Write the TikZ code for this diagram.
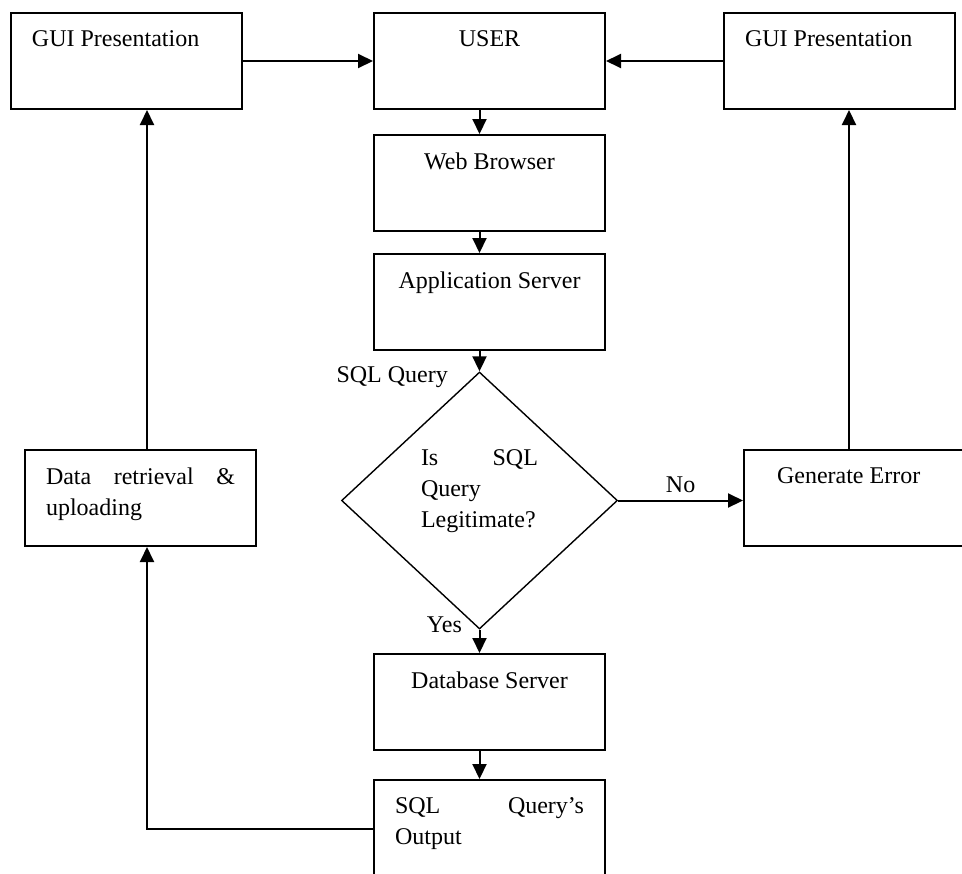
\documentclass[tikz,border=0pt]{standalone}
\usepackage{fontspec}
\setmainfont{Liberation Serif}
\usepackage{tikz}
\usetikzlibrary{arrows.meta,positioning,shapes.geometric}

\newcommand{\boxtext}[1]{\parbox[t][30pt][t]{94.5pt}{#1}}

\begin{document}
\begin{tikzpicture}[x=0.5pt,y=-0.5pt,->,>={Triangle[length=7.5pt,width=7pt]},line width=1pt,
                    font=\fontsize{12}{15.5}\selectfont]
  \tikzstyle{blk}=[draw,rectangle,anchor=north west,inner xsep=10.5pt,inner ysep=9pt,minimum width=115.5pt,minimum height=48pt]
  \tikzstyle{dia}=[draw,diamond,inner sep=0pt,minimum width=138pt,minimum height=128.5pt,line width=0.7pt]

  \useasboundingbox (0,0) rectangle (962,873);

  \node[blk]                    (user)  at (373,12)  {\boxtext{\centering USER}};
  \node[blk]                    (guiL)  at (10,12)   {\boxtext{GUI Presentation}};
  \node[blk]                    (guiR)  at (723,12)  {\boxtext{GUI Presentation}};
  \node[blk,below=12pt of user] (web)                {\boxtext{\centering Web Browser}};
  \node[blk,below=10.5pt of web](app)                {\boxtext{\centering Application Server}};
  \node[dia]                    (legit) at (479.5,500.5) {\parbox[c][51pt][t]{58.5pt}{Is\hfill SQL\\Query\\Legitimate?}};
  \node[blk]                    (db)    at (373,653) {\boxtext{\centering Database Server}};
  \node[blk,below=14pt of db]   (out)                {\boxtext{SQL\hfill Query’s\\Output}};
  \node[blk]                    (data)  at (24,449)  {\boxtext{Data\hfill retrieval\hfill\&\\uploading}};
  \node[blk]                    (err)   at (743,449) {\boxtext{\hspace*{6pt}Generate Error}};

  \node[anchor=base east] (qlab) at ([xshift=-12pt,yshift=-5.5pt]legit.north) {SQL Query};
  \node[anchor=base east] (ylab) at ([xshift=-5pt,yshift=-1.5pt]legit.south) {Yes};

  \coordinate (errtop)  at ([xshift=53pt]err.north west);
  \coordinate (datatop) at ([xshift=61.5pt]data.north west);
  \coordinate (outleft) at ([yshift=-25pt]out.north west);

  \draw (guiL) -- (user);
  \draw (guiR) -- (user);
  \draw (user.south -| legit.north) -- (web.north -| legit.north);
  \draw (web.south -| legit.north) -- (app.north -| legit.north);
  \draw (app.south -| legit.north) -- (legit.north);
  \draw (legit.south) -- (db.north -| legit.south);
  \draw (db.south -| legit.south) -- (out.north -| legit.south);
  \draw (legit.east) -- node[above] (no) {No} (legit.east -| err.west);
  \draw (errtop) -- (errtop |- guiR.south);
  \draw (outleft) -| (datatop |- data.south);
  \draw (datatop) -- (datatop |- guiL.south);
\end{tikzpicture}
\end{document}
